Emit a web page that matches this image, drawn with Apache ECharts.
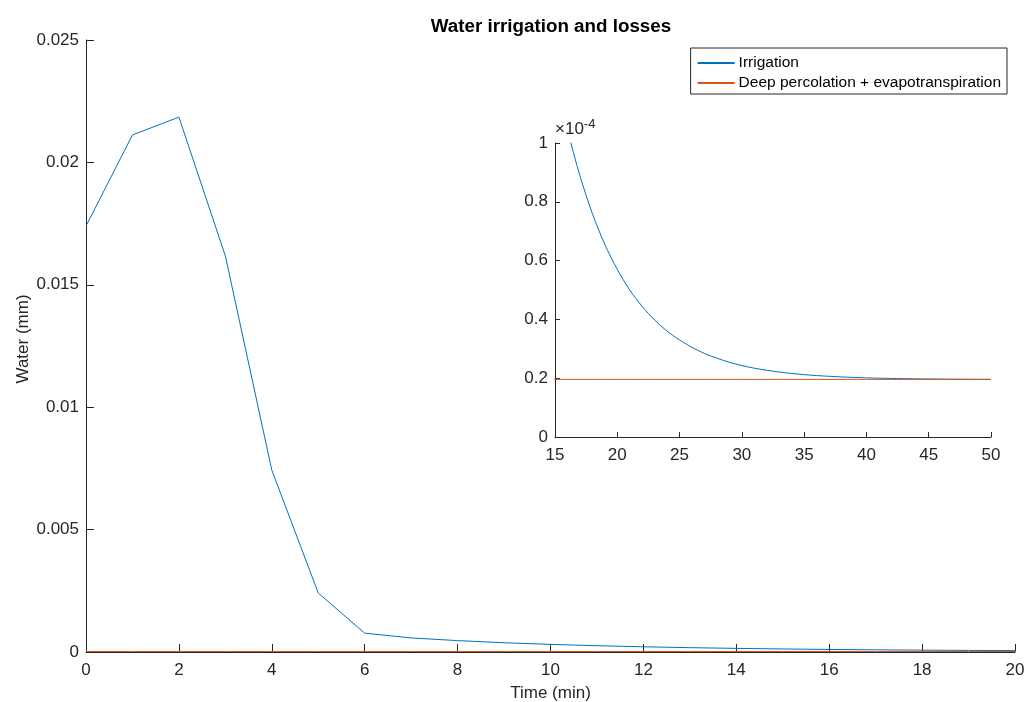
<!DOCTYPE html>
<html>
<head>
<meta charset="utf-8">
<script src="https://cdn.jsdelivr.net/npm/echarts@6/dist/echarts.min.js"></script>
<style>
  html, body { margin: 0; padding: 0; background: #fff; }
  #chart { width: 1024px; height: 702px; }
</style>
</head>
<body>
<div id="chart"></div>
<script>
// time in minutes
var times = [0, 1, 2, 3, 4, 5, 6, 7, 8, 9, 10, 11, 12, 13, 14, 15, 16, 17, 18, 19, 20,
  21, 22, 23, 24, 25, 26, 27, 28, 29, 30, 31, 32, 33, 34, 35, 36, 37, 38, 39, 40,
  41, 42, 43, 44, 45, 46, 47, 48, 49, 50];
// water (mm)
var irrigation = [0.0174, 0.02112, 0.02185, 0.01618, 0.00743, 0.00241, 0.00077, 0.000575, 0.000465, 0.000378,
  0.000311, 0.000257, 0.000213, 0.000177, 0.000148, 0.000124, 0.0001046, 0.0000889, 0.000076, 0.0000655,
  0.000057, 0.00005, 0.0000444, 0.0000398, 0.000036, 0.000033, 0.0000305, 0.0000284, 0.0000268, 0.0000254,
  0.0000243, 0.0000234, 0.0000227, 0.0000221, 0.0000216, 0.0000212, 0.0000209, 0.00002065, 0.00002044, 0.00002026,
  0.00002012, 0.00002001, 0.00001991, 0.00001984, 0.00001978, 0.00001973, 0.00001969, 0.00001966, 0.00001963, 0.00001961,
  0.0000196];
var losses = [0.0000196, 0.0000196, 0.0000196, 0.0000196, 0.0000196, 0.0000196, 0.0000196, 0.0000196, 0.0000196, 0.0000196,
  0.0000196, 0.0000196, 0.0000196, 0.0000196, 0.0000196, 0.0000196, 0.0000196, 0.0000196, 0.0000196, 0.0000196,
  0.0000196, 0.0000196, 0.0000196, 0.0000196, 0.0000196, 0.0000196, 0.0000196, 0.0000196, 0.0000196, 0.0000196,
  0.0000196, 0.0000196, 0.0000196, 0.0000196, 0.0000196, 0.0000196, 0.0000196, 0.0000196, 0.0000196, 0.0000196,
  0.0000196, 0.0000196, 0.0000196, 0.0000196, 0.0000196, 0.0000196, 0.0000196, 0.0000196, 0.0000196, 0.0000196,
  0.0000196];
var mainXTicks = { min: 0, max: 20, step: 2 };
var mainYTicks = { min: 0, max: 0.025, step: 0.005 };
var insetXTicks = { min: 15, max: 50, step: 5 };
var insetYTicks = { min: 0, max: 0.0001, step: 0.00002 };

function pairs(ys) {
  return times.map(function (t, i) { return [t, ys[i]]; });
}

var font = 'Liberation Sans, Arial, Helvetica, sans-serif';
var ink = '#262626';

function axisBase(fs) {
  return {
    type: 'value',
    nameMoveOverlap: false,
    axisLine: { show: true, lineStyle: { color: ink, width: 1 } },
    axisTick: { show: true, inside: true, length: fs, lineStyle: { color: ink } },
    splitLine: { show: false },
    axisLabel: { color: ink, fontFamily: font, fontSize: 17 }
  };
}

var myChart = echarts.init(document.getElementById('chart'));

var mx = axisBase(8), my = axisBase(8), ix = axisBase(5), iy = axisBase(5);
Object.assign(mx, {
  gridIndex: 0, min: mainXTicks.min, max: mainXTicks.max, interval: mainXTicks.step,
  name: 'Time (min)', nameLocation: 'middle', nameGap: 33,
  nameTextStyle: { color: ink, fontFamily: font, fontSize: 17 }
});
mx.axisLabel.margin = 10;
Object.assign(my, {
  gridIndex: 0, min: mainYTicks.min, max: mainYTicks.max, interval: mainYTicks.step,
  name: 'Water (mm)', nameLocation: 'middle', nameGap: 54,
  nameTextStyle: { color: ink, fontFamily: font, fontSize: 17, padding: [0, 0, 0, 14] }
});
my.axisLabel.margin = 7;
Object.assign(ix, {
  gridIndex: 1, min: insetXTicks.min, max: insetXTicks.max, interval: insetXTicks.step
});
ix.axisLabel.margin = 10;
Object.assign(iy, {
  gridIndex: 1, min: insetYTicks.min, max: insetYTicks.max, interval: insetYTicks.step,
  name: '×10{sup|-4}', nameLocation: 'end', nameGap: 2,
  nameTextStyle: {
    color: ink, fontFamily: font, fontSize: 17, align: 'left', verticalAlign: 'bottom',
    rich: { sup: { color: ink, fontFamily: font, fontSize: 13, verticalAlign: 'top', padding: [0, 0, 10, 0] } }
  }
});
iy.axisLabel.margin = 7;
iy.axisLabel.formatter = function (v) { return String(Math.round(v * 1e5) / 10); };

var option = {
  backgroundColor: '#fff',
  animation: false,
  title: {
    text: 'Water irrigation and losses',
    left: 546, top: 12, textAlign: 'center',
    textStyle: { color: '#000', fontFamily: font, fontSize: 18.8, fontWeight: 'bold' }
  },
  legend: {
    orient: 'vertical',
    right: 17, top: 48,
    itemWidth: 37, itemHeight: 1, itemGap: 4,
    padding: [7, 6, 3, 6],
    borderColor: ink, borderWidth: 1, borderRadius: 0,
    textStyle: { color: '#000', fontFamily: font, fontSize: 15.5, padding: [0, 0, 0, -1] },
    data: ['Irrigation', 'Deep percolation + evapotranspiration']
  },
  grid: [
    { left: 86, right: 9, top: 40, bottom: 50, outerBoundsMode: 'none' },
    { left: 555, right: 33, top: 143, bottom: 265, outerBoundsMode: 'none' }
  ],
  xAxis: [mx, ix],
  yAxis: [my, iy],
  series: [
    {
      name: 'Irrigation', type: 'line', xAxisIndex: 0, yAxisIndex: 0,
      symbol: 'none', lineStyle: { color: '#0072BD', width: 1 }, itemStyle: { color: '#0072BD' },
      data: pairs(irrigation), z: 3
    },
    {
      name: 'Deep percolation + evapotranspiration', type: 'line', xAxisIndex: 0, yAxisIndex: 0,
      symbol: 'none', lineStyle: { color: '#D95319', width: 1 }, itemStyle: { color: '#D95319' },
      data: pairs(losses), z: 4
    },
    {
      name: 'Irrigation', type: 'line', xAxisIndex: 1, yAxisIndex: 1, smooth: 0.3,
      symbol: 'none', lineStyle: { color: '#0072BD', width: 1 }, itemStyle: { color: '#0072BD' },
      data: pairs(irrigation), z: 3
    },
    {
      name: 'Deep percolation + evapotranspiration', type: 'line', xAxisIndex: 1, yAxisIndex: 1,
      symbol: 'none', lineStyle: { color: '#D95319', width: 1 }, itemStyle: { color: '#D95319' },
      data: pairs(losses), z: 4
    }
  ]
};

myChart.setOption(option, true);
window.addEventListener('resize', function () {
  myChart.resize();
});
</script>
</body>
</html>
